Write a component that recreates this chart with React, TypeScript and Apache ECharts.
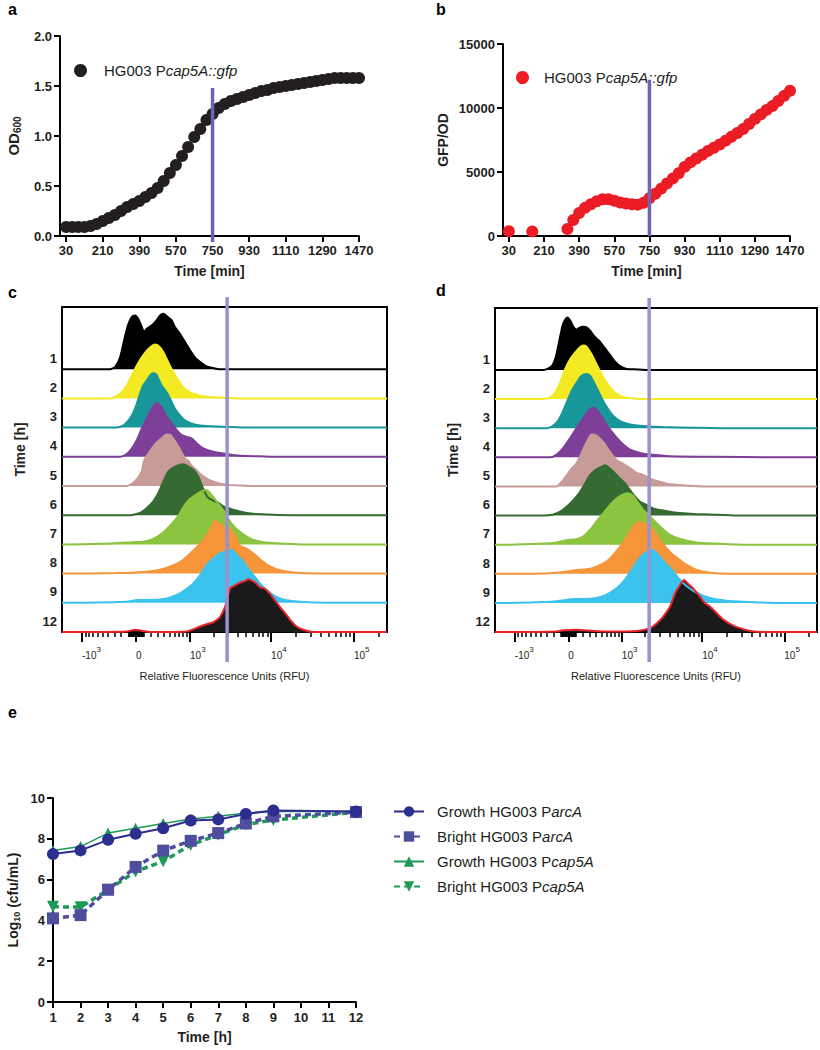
import React, { useEffect, useRef } from "react";
import * as echarts from "echarts";

// ---------- Panel a / b : plate-reader time course ----------
const TIME_MIN = [30, 60, 90, 120, 150, 180, 210, 240, 270, 300, 330, 360, 390, 420, 450, 480, 510, 540, 570, 600, 630, 660, 690, 720, 750, 780, 810, 840, 870, 900, 930, 960, 990, 1020, 1050, 1080, 1110, 1140, 1170, 1200, 1230, 1260, 1290, 1320, 1350, 1380, 1410, 1440, 1470];
const OD600 = [0.09, 0.09, 0.09, 0.09, 0.10, 0.12, 0.15, 0.18, 0.21, 0.25, 0.29, 0.32, 0.35, 0.39, 0.43, 0.48, 0.55, 0.63, 0.71, 0.80, 0.89, 0.99, 1.07, 1.16, 1.22, 1.28, 1.32, 1.35, 1.37, 1.39, 1.41, 1.43, 1.45, 1.46, 1.48, 1.49, 1.50, 1.51, 1.52, 1.53, 1.54, 1.55, 1.56, 1.57, 1.58, 1.58, 1.58, 1.58, 1.58];
const GFP_TIME = [30, 150, 330, 360, 390, 420, 450, 480, 510, 540, 570, 600, 630, 660, 690, 720, 750, 780, 810, 840, 870, 900, 930, 960, 990, 1020, 1050, 1080, 1110, 1140, 1170, 1200, 1230, 1260, 1290, 1320, 1350, 1380, 1410, 1440, 1470];
const GFP_OD = [380, 360, 550, 1250, 1800, 2200, 2480, 2720, 2870, 2870, 2750, 2620, 2540, 2480, 2450, 2600, 2950, 3300, 3700, 4100, 4500, 4900, 5400, 5750, 6050, 6350, 6650, 6900, 7150, 7450, 7750, 8050, 8350, 8750, 9150, 9500, 9850, 10150, 10550, 10950, 11350];
const X_TICKS_MIN = [30, 210, 390, 570, 750, 930, 1110, 1290, 1470];
const MARKER_TIME = 750;

// ---------- Panels c / d : flow cytometry histograms ----------
// x in asinh display units T = asinh(RFU / 470); y in % of mode
const ROW_LABELS = ["1", "2", "3", "4", "5", "6", "7", "8", "9", "12"];
const FL_TICK_RFU = [-1000, 0, 1000, 10000, 100000];
const FL_TICK_LABELS = ["-10^3", "0", "10^3", "10^4", "10^5"];
const FL_MINOR_RFU = [-900, -800, -700, -600, -500, -400, -300, -200, -100, -90, -80, -70, -60, -50, -40, -30, -20, -10, 10, 20, 30, 40, 50, 60, 70, 80, 90, 100, 200, 300, 400, 500, 600, 700, 800, 900, 2000, 3000, 4000, 5000, 6000, 7000, 8000, 9000, 20000, 30000, 40000, 50000, 60000, 70000, 80000, 90000, 200000];
const GATE_RFU = [2930, 2240];

const C1 = [[-0.72, 0], [-0.58, 4], [-0.44, 22], [-0.31, 58], [-0.21, 82], [-0.12, 94], [-0.03, 97], [0.06, 91], [0.16, 76], [0.22, 67], [0.30, 73], [0.44, 79], [0.57, 88], [0.67, 97], [0.76, 100], [0.90, 93], [0.99, 88], [1.08, 76], [1.22, 64], [1.36, 49], [1.50, 34], [1.64, 21], [1.78, 13], [1.96, 5], [2.15, 2], [2.33, 0]];
const C2 = [[-0.72, 0], [-0.54, 4], [-0.40, 11], [-0.26, 23], [-0.12, 41], [0.02, 59], [0.16, 74], [0.30, 86], [0.41, 93], [0.53, 97], [0.65, 93], [0.76, 83], [0.85, 71], [0.94, 59], [1.04, 47], [1.18, 32], [1.31, 20], [1.50, 11], [1.78, 5], [2.15, 2], [2.52, 1], [2.89, 0]];
const C3 = [[-0.54, 0], [-0.35, 4], [-0.21, 13], [-0.09, 25], [0.02, 43], [0.11, 61], [0.20, 76], [0.30, 85], [0.39, 94], [0.46, 98], [0.56, 96], [0.62, 88], [0.71, 76], [0.81, 67], [0.90, 58], [0.99, 46], [1.08, 34], [1.22, 22], [1.36, 13], [1.55, 7], [1.78, 4], [2.24, 2], [2.70, 1], [3.26, 0]];
const C4 = [[-0.44, 0], [-0.26, 5], [-0.12, 15], [0.02, 30], [0.16, 51], [0.30, 69], [0.44, 87], [0.53, 96], [0.59, 97], [0.67, 93], [0.76, 84], [0.85, 72], [0.99, 60], [1.13, 48], [1.27, 39], [1.41, 36], [1.55, 33], [1.69, 24], [1.87, 15], [2.15, 9], [2.52, 5], [2.89, 2], [3.44, 1], [4.00, 0]];
const C5 = [[-0.26, 0], [-0.12, 4], [0.02, 12], [0.16, 27], [0.22, 45], [0.39, 63], [0.57, 78], [0.71, 86], [0.85, 93], [0.96, 92], [1.08, 81], [1.22, 66], [1.36, 50], [1.45, 45], [1.55, 36], [1.69, 28], [1.78, 22], [1.92, 15], [2.06, 10], [2.24, 6], [2.43, 3], [2.61, 2], [2.89, 1], [3.26, 0]];
const C6 = [[-0.26, 0], [-0.07, 1], [0.11, 4], [0.30, 13], [0.48, 25], [0.62, 40], [0.76, 61], [0.90, 79], [1.04, 86], [1.18, 90], [1.31, 92], [1.45, 88], [1.59, 82], [1.73, 70], [1.82, 55], [1.92, 40], [2.01, 31], [2.15, 26], [2.29, 22], [2.43, 16], [2.61, 12], [2.80, 8], [3.07, 4], [3.35, 2], [3.81, 1], [4.56, 0]];
const C7 = [[-1.93, 0], [-1.00, 1], [-0.07, 4], [0.20, 5], [0.48, 10], [0.76, 22], [0.99, 37], [1.18, 52], [1.31, 67], [1.45, 79], [1.59, 86], [1.78, 94], [1.92, 98], [2.01, 96], [2.15, 85], [2.29, 73], [2.43, 61], [2.56, 46], [2.70, 34], [2.84, 25], [3.03, 16], [3.26, 8], [3.54, 4], [3.91, 2], [4.56, 0]];
const C8 = [[-1.93, 0], [-0.54, 1], [0.20, 3], [0.67, 7], [1.04, 15], [1.31, 25], [1.55, 39], [1.78, 54], [1.96, 69], [2.10, 84], [2.19, 95], [2.26, 93], [2.33, 90], [2.47, 83], [2.61, 81], [2.75, 68], [2.89, 50], [3.07, 45], [3.26, 36], [3.54, 21], [3.72, 13], [4.00, 6], [4.37, 2], [5.02, 0]];
const C9 = [[-1.93, 0], [-0.26, 2], [0.02, 5], [0.39, 5], [0.85, 8], [1.13, 14], [1.36, 23], [1.59, 35], [1.78, 50], [1.96, 68], [2.15, 80], [2.33, 89], [2.52, 93], [2.66, 95], [2.80, 86], [2.94, 77], [3.07, 65], [3.26, 50], [3.44, 35], [3.63, 23], [3.81, 14], [4.09, 6], [4.56, 2], [5.30, 0]];
const C12 = [[-1.93, 0], [-0.26, 1], [-0.03, 4], [0.20, 2], [0.39, 0], [1.41, 1], [1.78, 10], [1.96, 14], [2.15, 18], [2.33, 27], [2.47, 45], [2.61, 78], [2.75, 84], [2.89, 89], [3.03, 92], [3.12, 95], [3.21, 93], [3.31, 89], [3.44, 81], [3.58, 78], [3.72, 69], [3.86, 57], [4.00, 45], [4.14, 34], [4.28, 22], [4.46, 10], [4.65, 4], [4.93, 0]];

const D1 = [[-0.70, 0], [-0.56, 3], [-0.44, 9], [-0.35, 24], [-0.25, 54], [-0.16, 81], [-0.09, 91], [-0.03, 95], [0.05, 90], [0.14, 78], [0.23, 73], [0.33, 77], [0.42, 78], [0.51, 77], [0.61, 71], [0.70, 63], [0.79, 57], [0.89, 51], [1.03, 39], [1.17, 27], [1.31, 15], [1.45, 7], [1.64, 2], [1.92, 1], [2.20, 0]];
const D2 = [[-0.70, 0], [-0.51, 3], [-0.37, 12], [-0.23, 30], [-0.09, 54], [0.05, 72], [0.19, 84], [0.31, 93], [0.42, 97], [0.51, 95], [0.65, 81], [0.79, 63], [0.93, 45], [1.07, 30], [1.21, 18], [1.36, 9], [1.54, 4], [1.82, 1], [2.20, 0]];
const D3 = [[-0.61, 0], [-0.47, 3], [-0.33, 10], [-0.19, 25], [-0.05, 46], [0.09, 67], [0.23, 82], [0.37, 95], [0.51, 98], [0.61, 95], [0.70, 85], [0.84, 67], [0.98, 49], [1.12, 34], [1.26, 22], [1.45, 13], [1.73, 7], [2.10, 4], [2.66, 2], [3.50, 1], [4.44, 0]];
const D4 = [[-0.51, 0], [-0.33, 5], [-0.14, 17], [0.05, 35], [0.23, 53], [0.42, 71], [0.56, 83], [0.68, 90], [0.79, 86], [0.93, 74], [1.07, 59], [1.21, 47], [1.36, 35], [1.54, 23], [1.73, 14], [2.01, 8], [2.29, 5], [2.85, 2], [3.97, 1], [5.84, 0]];
const D5 = [[-0.33, 0], [-0.19, 8], [-0.05, 20], [0.09, 32], [0.23, 42], [0.37, 60], [0.51, 80], [0.65, 94], [0.79, 92], [0.98, 80], [1.17, 62], [1.36, 47], [1.54, 41], [1.73, 33], [1.92, 24], [2.10, 21], [2.29, 14], [2.48, 10], [2.76, 5], [3.04, 3], [3.50, 1], [3.97, 0]];
const D6 = [[-0.70, 0], [-0.42, 2], [-0.23, 7], [-0.05, 16], [0.14, 28], [0.33, 43], [0.47, 58], [0.61, 73], [0.75, 82], [0.89, 87], [1.03, 91], [1.17, 85], [1.31, 76], [1.45, 67], [1.59, 58], [1.73, 46], [1.87, 34], [2.01, 25], [2.20, 19], [2.38, 13], [2.66, 9], [3.04, 5], [3.50, 3], [3.97, 2], [4.72, 0]];
const D7 = [[-1.64, 0], [-0.70, 2], [-0.33, 4], [-0.05, 8], [0.23, 10], [0.42, 15], [0.61, 27], [0.79, 42], [0.98, 57], [1.17, 72], [1.36, 84], [1.54, 91], [1.68, 93], [1.82, 88], [1.96, 75], [2.10, 63], [2.24, 54], [2.38, 45], [2.57, 33], [2.76, 22], [2.94, 15], [3.22, 9], [3.60, 4], [4.16, 2], [4.91, 0]];
const D8 = [[-1.64, 0], [-0.51, 1], [-0.05, 4], [0.23, 7], [0.51, 8], [0.79, 13], [1.07, 22], [1.26, 34], [1.45, 49], [1.64, 67], [1.82, 85], [1.99, 94], [2.10, 91], [2.24, 88], [2.38, 79], [2.57, 61], [2.76, 46], [2.94, 34], [3.13, 25], [3.32, 16], [3.60, 7], [3.97, 2], [4.44, 0]];
const D9 = [[-1.64, 0], [-0.51, 2], [-0.14, 5], [0.14, 7], [0.42, 7], [0.79, 9], [1.07, 15], [1.36, 27], [1.59, 42], [1.78, 60], [1.96, 78], [2.15, 90], [2.34, 96], [2.52, 87], [2.71, 72], [2.90, 60], [3.08, 45], [3.32, 30], [3.60, 18], [3.97, 9], [4.44, 4], [4.91, 2], [5.84, 0]];
const D12 = [[-1.64, 0], [-0.33, 1], [-0.14, 3], [0.23, 4], [0.70, 2], [1.17, 1], [1.92, 2], [2.29, 7], [2.48, 16], [2.66, 28], [2.85, 46], [2.99, 70], [3.13, 85], [3.24, 94], [3.36, 87], [3.50, 79], [3.69, 64], [3.83, 52], [3.97, 46], [4.16, 34], [4.35, 22], [4.58, 13], [4.81, 7], [5.09, 2], [5.47, 0]];

const HIST_C = [C1, C2, C3, C4, C5, C6, C7, C8, C9, C12];
const HIST_D = [D1, D2, D3, D4, D5, D6, D7, D8, D9, D12];

// ---------- Panel e : cfu counts ----------
const HOURS = [1, 2, 3, 4, 5, 6, 7, 8, 9, 12];
const GROWTH_PARCA = [7.25, 7.43, 7.95, 8.25, 8.52, 8.9, 8.95, 9.22, 9.39, 9.34];
const BRIGHT_PARCA = [4.1, 4.26, 5.5, 6.62, 7.42, 7.9, 8.28, 8.75, 9.1, 9.31];
const GROWTH_PCAP5A = [7.43, 7.62, 8.28, 8.52, 8.75, 8.97, 9.1, 9.26, 9.34, 9.34];
const BRIGHT_PCAP5A = [4.67, 4.65, 5.5, 6.4, 6.9, 7.7, 8.2, 8.7, 8.92, 9.3];

// ---------- styles ----------
const FONT = "'Liberation Sans', Arial, Helvetica, sans-serif";
const ROW_FILL = ["#000000", "#f4ea24", "#17979a", "#7d3f97", "#c79b98", "#356a32", "#8cc43f", "#f6953a", "#3bc3ee", "#1a1a1a"];
const ROW_LINE = ["#000000", "#f4ea24", "#17979a", "#7d3f97", "#c79b98", "#356a32", "#8cc43f", "#f6953a", "#3bc3ee", "#ec2228"];
const T_W = 470;
const T_MIN = -2.056;
const T_MAX = 6.97;
const ROW_MAX = 11.13;
const PEAK = 1.9;
const LABEL_LIFT = 0.37;

const tf = (v: number) => Math.asinh(v / T_W);

function buildOption() {
  const baseOf = (i: number) => ROW_LABELS.length - 1 - i;
  const rowLabelValues = ROW_LABELS.map((_, i) => baseOf(i) + LABEL_LIFT);
  const majorT = FL_TICK_RFU.map(tf);
  const minorT = FL_MINOR_RFU.map(tf);

  const flLabel = (v: number) => {
    const i = majorT.findIndex((t) => Math.abs(t - v) < 1e-6);
    const lab = FL_TICK_LABELS[i] || "";
    if (lab.indexOf("^") < 0) return `{b|${lab}}{s| }`;
    const [b, e] = lab.split("^");
    return `{b|${b}}{s|${e}}`;
  };
  const rowLabel = (v: number) => {
    const i = ROW_LABELS.length - 1 - Math.round(v - LABEL_LIFT);
    return ROW_LABELS[i] || "";
  };
  const plain = (v: number) => String(v);

  const black = "#000";
  const boldAxisLabel = (size: number, margin: number) => ({
    color: "#231f20", fontFamily: FONT, fontWeight: "bold", fontSize: size, margin,
  });
  const axisLine = { show: true, lineStyle: { color: black, width: 2 } };
  const tick = (len: number) => ({ show: true, length: len, lineStyle: { color: black, width: 2 } });
  const titleStyle = (size: number) => ({ fontFamily: FONT, fontWeight: "bold", fontSize: size, color: "#231f20" });

  const flMajorAxis = (grid: number) => ({
    type: "value", gridIndex: grid, min: T_MIN, max: T_MAX, position: "bottom",
    axisLine: { show: false },
    axisTick: { show: true, customValues: majorT, length: 10, lineStyle: { color: black, width: 2 } },
    axisLabel: {
      show: true, customValues: majorT, formatter: flLabel, align: "left", margin: 13,
      rich: {
        b: { fontFamily: FONT, fontSize: 10, color: "#231f20" },
        s: { fontFamily: FONT, fontSize: 8, color: "#231f20", padding: [0, 0, 12, 0] },
      },
    },
    splitLine: { show: false },
    name: "Relative Fluorescence Units (RFU)", nameLocation: "middle", nameGap: 38,
    nameTextStyle: { fontFamily: FONT, fontSize: 11, color: "#231f20" },
  });
  const flMinorAxis = (grid: number) => ({
    type: "value", gridIndex: grid, min: T_MIN, max: T_MAX, position: "bottom",
    axisLine: { show: false },
    axisTick: { show: true, customValues: minorT, length: 5, lineStyle: { color: black, width: 1.5 } },
    axisLabel: { show: false },
    splitLine: { show: false },
  });
  const rowAxis = (grid: number) => ({
    type: "value", gridIndex: grid, min: 0, max: ROW_MAX,
    axisLine: { show: false }, axisTick: { show: false }, splitLine: { show: false },
    axisLabel: { ...boldAxisLabel(13, 5), customValues: rowLabelValues, formatter: rowLabel },
    name: "Time [h]", nameLocation: "middle", nameRotate: 90, nameGap: 35,
    nameTextStyle: { ...titleStyle(14), padding: [0, 0, 0, 40] },
  });

  const ridge = (hist: number[][][], xi: number, yi: number) =>
    hist.map((knots, i) => {
      const base = baseOf(i);
      const data = [[T_MIN, base], ...knots.map(([t, p]) => [t, base + (p / 100) * PEAK]), [T_MAX, base]];
      return {
        type: "line", xAxisIndex: xi, yAxisIndex: yi, data, symbol: "none", smooth: 0.2, silent: true,
        lineStyle: { color: ROW_LINE[i], width: 2 },
        areaStyle: { color: ROW_FILL[i], opacity: 1, origin: base },
        z: 2,
      };
    });

  const gateLine = (t: number, xi: number, yi: number, lo: number, hi: number, color: string) => ({
    type: "line", xAxisIndex: xi, yAxisIndex: yi, data: [[t, lo], [t, hi]], symbol: "none", clip: false,
    silent: true, lineStyle: { color, width: 3.5 }, z: 6,
  });

  const italicSplit = (name: string) => {
    const k = name.lastIndexOf(" P");
    return `{n|${name.slice(0, k + 2)}}{i|${name.slice(k + 2)}}`;
  };
  const legendRich = {
    n: { fontFamily: FONT, fontSize: 15, color: "#231f20" },
    i: { fontFamily: FONT, fontSize: 15, fontStyle: "italic", color: "#231f20" },
  };

  const green = "#1d9a55";
  const navy = "#2c2f8f";
  const slate = "#4f4d9d";

  return {
    animation: false,
    backgroundColor: "#ffffff",
    textStyle: { fontFamily: FONT },
    grid: [
      { left: 60, top: 36, width: 299, height: 200 },
      { left: 503, top: 44, width: 287, height: 192 },
      { left: 62, top: 307, width: 325, height: 325, show: true, borderColor: black, borderWidth: 2, backgroundColor: "transparent" },
      { left: 495, top: 308, width: 322, height: 324, show: true, borderColor: black, borderWidth: 2, backgroundColor: "transparent" },
      { left: 53, top: 798, width: 303, height: 204 },
    ],
    xAxis: [
      {
        type: "value", gridIndex: 0, min: 0, max: 1470, axisLine, axisTick: { ...tick(6), customValues: X_TICKS_MIN },
        axisLabel: { ...boldAxisLabel(13, 8), customValues: X_TICKS_MIN, formatter: plain }, splitLine: { show: false },
        name: "Time [min]", nameLocation: "middle", nameGap: 28, nameTextStyle: titleStyle(14),
      },
      {
        type: "value", gridIndex: 1, min: 0, max: 1470, axisLine, axisTick: { ...tick(6), customValues: X_TICKS_MIN },
        axisLabel: { ...boldAxisLabel(13, 8), customValues: X_TICKS_MIN, formatter: plain }, splitLine: { show: false },
        name: "Time [min]", nameLocation: "middle", nameGap: 28, nameTextStyle: titleStyle(14),
      },
      flMajorAxis(2),
      flMinorAxis(2),
      flMajorAxis(3),
      flMinorAxis(3),
      {
        type: "value", gridIndex: 4, min: 1, max: 12, interval: 1, axisLine, axisTick: tick(6),
        axisLabel: { ...boldAxisLabel(13, 9), formatter: plain }, splitLine: { show: false },
        name: "Time [h]", nameLocation: "middle", nameGap: 28, nameTextStyle: titleStyle(14),
      },
    ],
    yAxis: [
      {
        type: "value", gridIndex: 0, min: 0, max: 2, interval: 0.5, axisLine, axisTick: tick(6),
        axisLabel: { ...boldAxisLabel(13, 8), formatter: (v: number) => v.toFixed(1) }, splitLine: { show: false },
        name: "{a|OD}{s|600}", nameLocation: "middle", nameRotate: 90, nameGap: 38,
        nameTextStyle: { rich: { a: titleStyle(15), s: { ...titleStyle(10), padding: [8, 0, 0, 0] } } },
      },
      {
        type: "value", gridIndex: 1, min: 0, max: 15000, interval: 5000, axisLine, axisTick: tick(6),
        axisLabel: { ...boldAxisLabel(13, 8), formatter: plain }, splitLine: { show: false },
        name: "GFP/OD", nameLocation: "middle", nameRotate: 90, nameGap: 53, nameTextStyle: titleStyle(14),
      },
      rowAxis(2),
      rowAxis(3),
      {
        type: "value", gridIndex: 4, min: 0, max: 10, interval: 2, axisLine, axisTick: tick(6),
        axisLabel: { ...boldAxisLabel(13, 8), formatter: plain }, splitLine: { show: false },
        name: "{a|Log}{s|10}{a| (cfu/mL)}", nameLocation: "middle", nameRotate: 90, nameGap: 32,
        nameTextStyle: { rich: { a: titleStyle(14), s: { ...titleStyle(9), padding: [8, 0, 0, 0] } } },
      },
    ],
    legend: [
      {
        data: ["OD HG003 Pcap5A::gfp"], left: 69, top: 58, icon: "circle", itemWidth: 13, itemHeight: 13,
        formatter: () => "{n|HG003 P}{i|cap5A::gfp}", textStyle: { rich: legendRich, padding: [0, 0, 0, 12] },
        selectedMode: false,
      },
      {
        data: ["GFP HG003 Pcap5A::gfp"], left: 511, top: 65, icon: "circle", itemWidth: 13, itemHeight: 13,
        formatter: () => "{n|HG003 P}{i|cap5A::gfp}", textStyle: { rich: legendRich, padding: [0, 0, 0, 10] },
        selectedMode: false,
      },
      {
        data: ["Growth HG003 ParcA", "Bright HG003 ParcA", "Growth HG003 Pcap5A", "Bright HG003 Pcap5A"],
        left: 388, top: 799, orient: "vertical", itemGap: 10, itemWidth: 30, itemHeight: 13,
        formatter: italicSplit, textStyle: { rich: legendRich, padding: [0, 0, 0, 8] }, selectedMode: false,
      },
    ],
    graphic: [
      { type: "text", x: 8, y: 9, style: { text: "a", font: `bold 16px ${FONT}`, fill: "#000", textVerticalAlign: "middle" } },
      { type: "text", x: 436, y: 9, style: { text: "b", font: `bold 16px ${FONT}`, fill: "#000", textVerticalAlign: "middle" } },
      { type: "text", x: 8, y: 292, style: { text: "c", font: `bold 16px ${FONT}`, fill: "#000", textVerticalAlign: "middle" } },
      { type: "text", x: 436, y: 290, style: { text: "d", font: `bold 16px ${FONT}`, fill: "#000", textVerticalAlign: "middle" } },
      { type: "text", x: 8, y: 712, style: { text: "e", font: `bold 16px ${FONT}`, fill: "#000", textVerticalAlign: "middle" } },
    ],
    series: [
      {
        name: "OD HG003 Pcap5A::gfp", type: "scatter", xAxisIndex: 0, yAxisIndex: 0,
        data: TIME_MIN.map((t, i) => [t, OD600[i]]), symbolSize: 12, itemStyle: { color: "#231f20", opacity: 1 },
      },
      gateLine(MARKER_TIME, 0, 0, -0.06, 1.48, "#6b64b5"),
      {
        name: "GFP HG003 Pcap5A::gfp", type: "scatter", xAxisIndex: 1, yAxisIndex: 1,
        data: GFP_TIME.map((t, i) => [t, GFP_OD[i]]), symbolSize: 12, itemStyle: { color: "#ec1c24", opacity: 1 },
      },
      gateLine(MARKER_TIME, 1, 1, 0, 12200, "#6b64b5"),
      ...ridge(HIST_C, 2, 2),
      gateLine(tf(GATE_RFU[0]), 2, 2, -1.03, 11.47, "#9a92cd"),
      ...ridge(HIST_D, 4, 3),
      gateLine(tf(GATE_RFU[1]), 4, 3, -1.03, 11.47, "#9a92cd"),
      {
        name: "Growth HG003 Pcap5A", type: "line", xAxisIndex: 6, yAxisIndex: 4,
        data: HOURS.map((h, i) => [h, GROWTH_PCAP5A[i]]), symbol: "triangle", symbolSize: 11,
        itemStyle: { color: green }, lineStyle: { color: green, width: 1.5 },
      },
      {
        name: "Bright HG003 Pcap5A", type: "line", xAxisIndex: 6, yAxisIndex: 4,
        data: HOURS.map((h, i) => [h, BRIGHT_PCAP5A[i]]), symbol: "triangle", symbolRotate: 180, symbolSize: 12,
        itemStyle: { color: green }, lineStyle: { color: green, width: 3.5, type: [6, 4] },
      },
      {
        name: "Bright HG003 ParcA", type: "line", xAxisIndex: 6, yAxisIndex: 4,
        data: HOURS.map((h, i) => [h, BRIGHT_PARCA[i]]), symbol: "rect", symbolSize: 12,
        itemStyle: { color: slate }, lineStyle: { color: slate, width: 3.5, type: [6, 4] },
      },
      {
        name: "Growth HG003 ParcA", type: "line", xAxisIndex: 6, yAxisIndex: 4,
        data: HOURS.map((h, i) => [h, GROWTH_PARCA[i]]), symbol: "circle", symbolSize: 12,
        itemStyle: { color: navy }, lineStyle: { color: navy, width: 2 },
      },
    ],
  };
}

export default function App() {
  const ref = useRef<HTMLDivElement>(null);
  useEffect(() => {
    if (!ref.current) return;
    const chart = echarts.init(ref.current, null, { renderer: "svg", width: 820, height: 1050 });
    chart.setOption(buildOption() as any);
    return () => chart.dispose();
  }, []);
  return (
    <div
      ref={ref}
      style={{ position: "absolute", left: 0, top: 0, width: 820, height: 1050, background: "#fff" }}
    />
  );
}
